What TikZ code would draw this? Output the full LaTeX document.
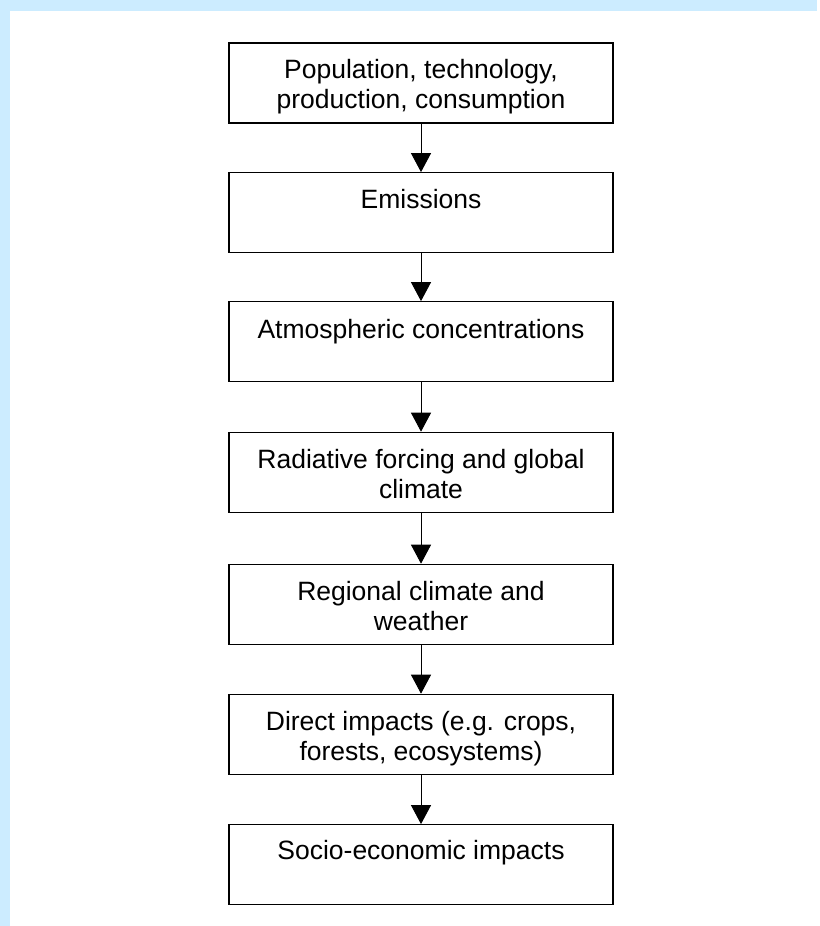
\documentclass[tikz,border=0pt]{standalone}
\usepackage{fontspec}
\setmainfont{Liberation Sans}
\usetikzlibrary{arrows.meta}
\definecolor{bgblue}{RGB}{204,236,255}
\begin{document}
\begin{tikzpicture}[x=1pt,y=-1pt,
  box/.style={draw, line width=1.2pt, minimum width=384pt, minimum height=80pt, inner sep=0pt},
  boxtext/.style={anchor=north, inner sep=0pt, align=center, font=\fontsize{26.5}{30}\selectfont},
  arr/.style={line width=1pt, -{Triangle[width=20pt,length=19pt]}}]
\useasboundingbox (0,0) rectangle (819,926);
\fill[white] (0,0) rectangle (819,926);
\fill[bgblue] (0,0) rectangle (817,11);
\fill[bgblue] (0,0) rectangle (10,926);

\node[box] (b1) at (421,83) {};
\node[box] (b2) at (421,212.7) {};
\node[box] (b3) at (421,341.7) {};
\node[box] (b4) at (421,472.3) {};
\node[box] (b5) at (421,604.3) {};
\node[box] (b6) at (421,734.3) {};
\node[box] (b7) at (421,864.7) {};

\node[boxtext] (t1) at (421,58.5) {\rule{0pt}{20pt}Population, technology,\\production, consumption};
\node[boxtext] (t2) at (421,188.2) {\rule{0pt}{20pt}Emissions};
\node[boxtext] (t3) at (421,318.5) {\rule{0pt}{20pt}Atmospheric concentrations};
\node[boxtext] (t4) at (421,448.3) {\rule{0pt}{20pt}Radiative forcing and global\\climate};
\node[boxtext] (t5) at (421,580) {\rule{0pt}{20pt}Regional climate and\\weather};
\node[boxtext] (t6) at (421,710) {\rule{0pt}{20pt}Direct impacts (e.g. crops,\\forests, ecosystems)};
\node[boxtext] (t7) at (421,839.5) {\rule{0pt}{20pt}Socio-economic impacts};

\draw[arr] (b1.south) -- (b2.north);
\draw[arr] (b2.south) -- (b3.north);
\draw[arr] (b3.south) -- (b4.north);
\draw[arr] (b4.south) -- (b5.north);
\draw[arr] (b5.south) -- (b6.north);
\draw[arr] (b6.south) -- (b7.north);
\end{tikzpicture}
\end{document}
